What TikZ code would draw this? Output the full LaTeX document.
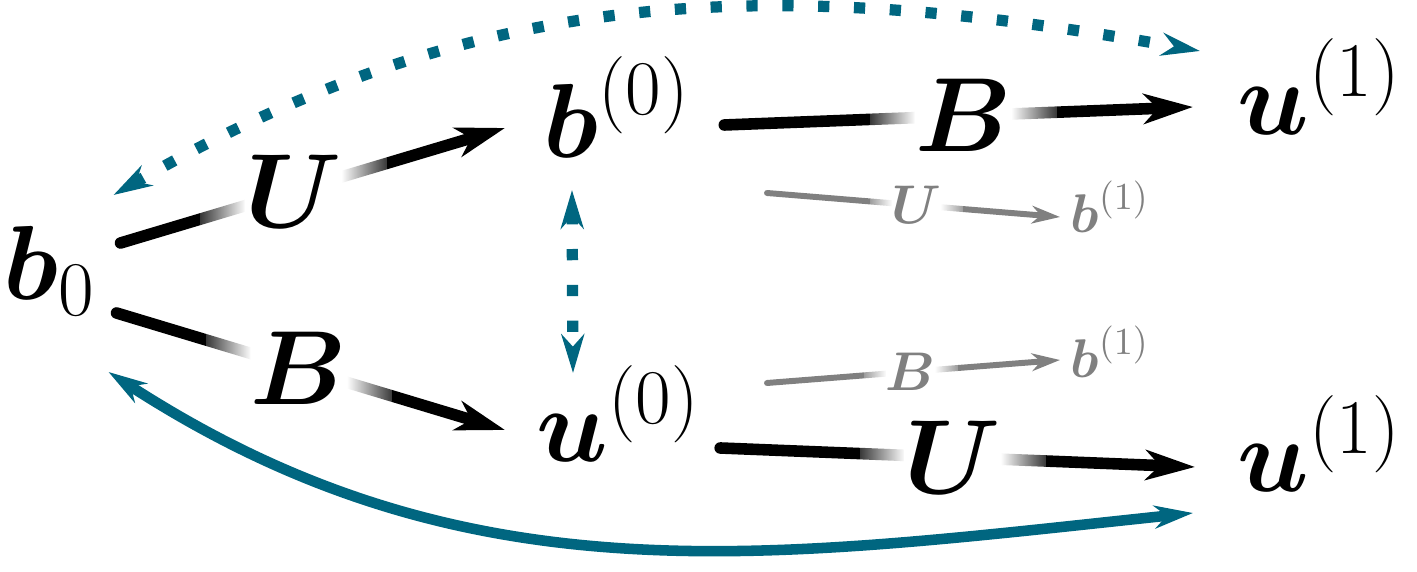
\documentclass[tikz,border=0pt]{standalone}
\usepackage{fix-cm}
\usepackage{amsmath,amssymb}
\usepackage{xcolor}
\usepackage{tikz}
\usetikzlibrary{arrows.meta, fadings}
\definecolor{loopteal}{HTML}{006680}
\DeclareMathSizes{30}{30}{22}{16}

% fading square centred on the origin: soft at both ends
\begin{tikzfadingfrompicture}[name=fadeends]
  \shade[left color=transparent!100, right color=transparent!0] (-1,-1) rectangle (-0.45,1);
  \fill[transparent!0] (-0.46,-1) rectangle (0.46,1);
  \shade[left color=transparent!0, right color=transparent!100] (0.45,-1) rectangle (1,1);
\end{tikzfadingfrompicture}

\begin{document}
\begin{tikzpicture}[
  var/.style={inner sep=0pt, anchor=base west, font=\fontsize{30}{36}\selectfont},
  ghost/.style={inner sep=0pt, anchor=base west, text=black!50,
                font=\fontsize{15.5}{19}\selectfont},
  lbl/.style={inner xsep=0.45cm, inner ysep=0.05cm, font=\fontsize{30}{36}\selectfont,
              preaction={fill=white, path fading=fadeends}},
  glbl/.style={inner xsep=0.22cm, inner ysep=0.03cm, text=black!50,
               font=\fontsize{15.5}{19}\selectfont,
               preaction={fill=white, path fading=fadeends}},
  map/.style={-{Stealth[length=14pt, width=8.5pt, inset=4pt]}, line width=3.3pt,
              line cap=round},
  gmap/.style={-{Stealth[length=8pt, width=5pt, inset=2.5pt]}, line width=1.7pt,
               line cap=round, black!50},
  link/.style={{Stealth[length=11pt, width=6.5pt, inset=3.5pt]}-{Stealth[length=11pt, width=6.5pt, inset=3.5pt]},
               line width=3pt, loopteal},
  dlink/.style={link, line width=3.2pt, dash pattern=on 3.2pt off 7pt}
]
\useasboundingbox (0,0) rectangle (14.17,5.72);

% Variables
\node[var] (b0) at (0.03,2.72) {$\boldsymbol{b}_0$};
\node[var] (bz) at (5.43,4.14) {$\boldsymbol{b}^{(0)}$};
\node[var] (uz) at (5.36,1.10) {$\boldsymbol{u}^{(0)}$};
\node[var] (u1a) at (12.37,4.37) {$\boldsymbol{u}^{(1)}$};
\node[var] (u1b) at (12.37,0.80) {$\boldsymbol{u}^{(1)}$};

% Next step (grey)
\node[ghost] (ba) at (10.70,3.39) {$\boldsymbol{b}^{(1)}$};
\node[ghost] (bb) at (10.70,1.94) {$\boldsymbol{b}^{(1)}$};
\coordinate (ga) at (7.67,3.79);
\coordinate (gb) at (7.67,1.89);

% Maps
\draw[map] ([shift={(0.24,0.57)}]b0.base east) -- node[lbl, pos=0.45] {$\boldsymbol{U}$}
  ([shift={(-0.38,0.30)}]bz.base west);
\draw[map] ([shift={(0.20,-0.13)}]b0.base east) -- node[lbl, pos=0.47] {$\boldsymbol{B}$}
  ([shift={(-0.31,0.32)}]uz.base west);
\draw[map] ([shift={(0.33,0.33)}]bz.base east) -- node[lbl, pos=0.51] {$\boldsymbol{B}$}
  ([shift={(-0.44,0.28)}]u1a.base west);
\draw[map] ([shift={(0.19,0.14)}]uz.base east) -- node[lbl, pos=0.49] {$\boldsymbol{U}$}
  ([shift={(-0.42,0.25)}]u1b.base west);

\draw[gmap] (ga) -- node[glbl, pos=0.51] {$\boldsymbol{U}$} ([shift={(-0.10,0.16)}]ba.base west);
\draw[gmap] (gb) -- node[glbl, pos=0.49] {$\boldsymbol{B}$} ([shift={(-0.10,0.18)}]bb.base west);

% Links
\draw[dlink] ([shift={(0.29,-0.32)}]bz.base west) -- ([shift={(0.37,0.89)}]uz.base west);
\draw[dlink] ([shift={(0.17,1.05)}]b0.base east) to[out=30, in=170]
  ([shift={(-0.37,0.84)}]u1a.base west);
\draw[link] ([shift={(0.12,-0.72)}]b0.base east) to[out=-33, in=186]
  ([shift={(-0.44,-0.21)}]u1b.base west);

\end{tikzpicture}
\end{document}
